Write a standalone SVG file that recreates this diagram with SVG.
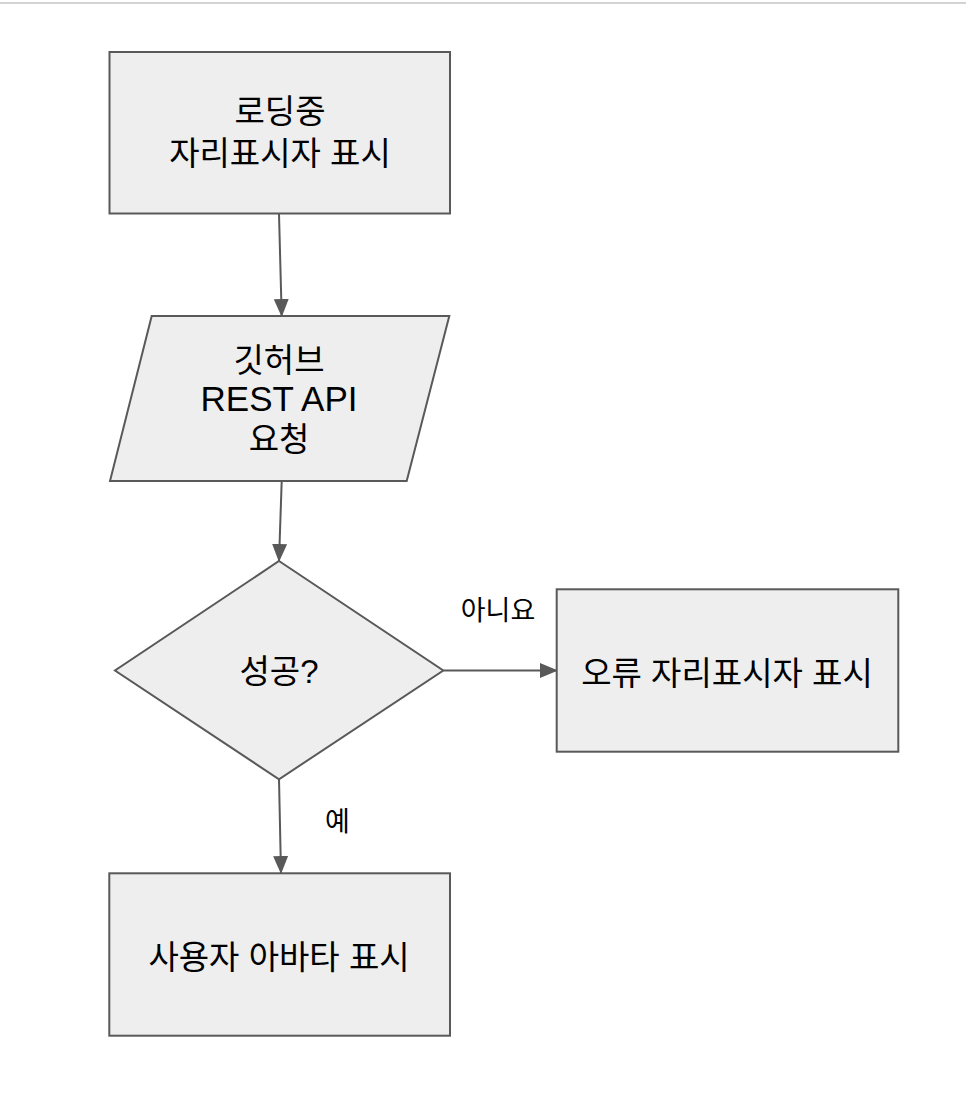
<svg xmlns="http://www.w3.org/2000/svg" width="966" height="1114" viewBox="0 0 966 1114">
  <style>
    .shape { fill: #eeeeee; stroke: #595959; stroke-width: 2; }
    .conn { fill: none; stroke: #595959; stroke-width: 2; }
    .txt { font-family: "Liberation Sans", "Noto Sans CJK KR", sans-serif; fill: #000000; text-anchor: middle; }
    .ko { font-size: 33px; }
    .en { font-size: 35px; }
    .lbl { font-size: 27px; }
  </style>
  <defs>
    <marker id="arrow" markerUnits="userSpaceOnUse" markerWidth="18" markerHeight="15" refX="17" refY="7.5" orient="auto">
      <path d="M0,0 L18,7.5 L0,15 z" fill="#595959"/>
    </marker>
  </defs>
  <rect width="966" height="1114" fill="#ffffff"/>
  <rect x="0" y="2" width="966" height="2" fill="#d3d3d3"/>

  <g id="connectors">
    <line class="conn" x1="279" y1="214" x2="281.7" y2="316" marker-end="url(#arrow)"/>
    <line class="conn" x1="281.7" y1="481" x2="279" y2="561" marker-end="url(#arrow)"/>
    <line class="conn" x1="443.5" y1="670.5" x2="557" y2="670.5" marker-end="url(#arrow)"/>
    <line class="conn" x1="279" y1="779" x2="281" y2="873" marker-end="url(#arrow)"/>
    <text class="txt lbl" x="498" y="620">아니요</text>
    <text class="txt lbl" x="337.5" y="831">예</text>
  </g>

  <g id="node-loading">
    <rect class="shape" x="109.5" y="52" width="340.5" height="161.5"/>
    <text class="txt ko" x="280" y="123">로딩중</text>
    <text class="txt ko" x="280" y="165">자리표시자 표시</text>
  </g>

  <g id="node-request">
    <polygon class="shape" points="151.7,316 449.3,316 406.7,481 110,481"/>
    <text class="txt ko" x="279" y="372">깃허브</text>
    <text class="txt en" x="279" y="411">REST API</text>
    <text class="txt ko" x="279" y="451">요청</text>
  </g>

  <g id="node-success">
    <polygon class="shape" points="279,561 443.3,670.5 279,779.3 115,670.5"/>
    <text class="txt ko" x="279" y="683">성공?</text>
  </g>

  <g id="node-error">
    <rect class="shape" x="556.7" y="589.3" width="341.6" height="162.4"/>
    <text class="txt ko" x="727" y="685">오류 자리표시자 표시</text>
  </g>

  <g id="node-avatar">
    <rect class="shape" x="109.3" y="873.3" width="340.7" height="162.4"/>
    <text class="txt ko" x="279" y="969">사용자 아바타 표시</text>
  </g>
</svg>
